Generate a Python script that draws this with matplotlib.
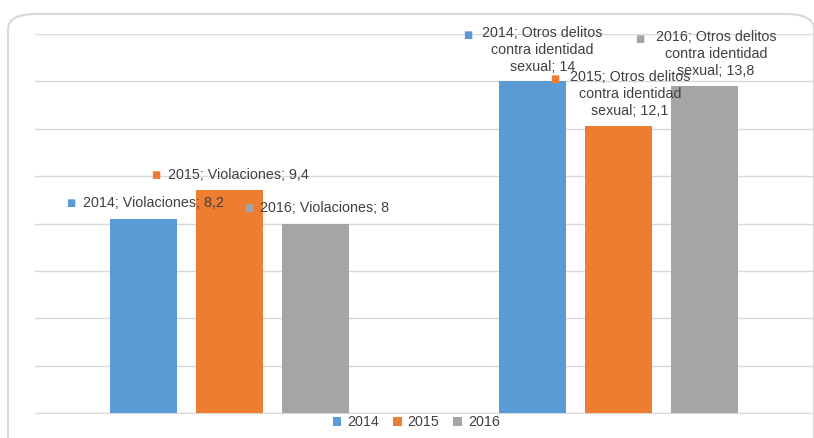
import numpy as np
import matplotlib.pyplot as plt
from matplotlib.patches import FancyBboxPatch

# datos
categorias = ['Violaciones', 'Otros delitos\ncontra identidad\nsexual']
anios = ['2014', '2015', '2016']
v2014 = [8.2, 14]
v2015 = [9.4, 12.1]
v2016 = [8, 13.8]
etiquetas = ['2014; Violaciones; 8,2', '2015; Violaciones; 9,4', '2016; Violaciones; 8',
             '2014; Otros delitos\ncontra identidad\nsexual; 14',
             '2015; Otros delitos\ncontra identidad\nsexual; 12,1',
             '2016; Otros delitos\ncontra identidad\nsexual; 13,8']
colores = ['#5B9BD5', '#ED7D31', '#A5A5A5']

plt.rcParams['font.family'] = ['Liberation Sans', 'DejaVu Sans']

fig = plt.figure(figsize=(8.14, 4.38), dpi=100)
ax = fig.add_axes([35/814, 25/438, 778/814, 379/438])

# marco redondeado
marco = FancyBboxPatch((8/814, -20/438), 806/814, 444/438,
                       boxstyle='round,pad=0,rounding_size=0.035',
                       transform=fig.transFigure, fc='none', ec='#d9d9d9', lw=1.5,
                       clip_on=False)
fig.patches.append(marco)

x = np.arange(len(categorias))
ancho = 0.172
paso = 0.222
series = [v2014, v2015, v2016]
for i, vals in enumerate(series):
    ax.bar(x + (i - 1) * paso, vals, ancho, color=colores[i], label=anios[i], zorder=3)

ax.set_xlim(-0.5, 1.5)
ax.set_ylim(0, 16)
ax.set_yticks(np.arange(0, 17, 2))
ax.grid(axis='y', color='#d9d9d9', lw=1, zorder=0)
ax.set_xticks([])
ax.tick_params(left=False, labelleft=False)
for s in ['top', 'right', 'left']:
    ax.spines[s].set_visible(False)
ax.spines['bottom'].set_color('#d9d9d9')

# desplazamientos de etiquetas (px): texto (dx, dy), cuadrado (dx, dy)
despl = [
    [(-60.5, 16), (-72.5, 16)],
    [(-61, 15), (-74, 15)],
    [(-55.5, 15.5), (-67.5, 15.5)],
]
despl2 = [
    [(10.5, 31), (-64.5, 46)],
    [(11.5, 32), (-63.5, 47)],
    [(11, 32), (-65, 47)],
]
for j in range(len(categorias)):
    for i, vals in enumerate(series):
        xc = x[j] + (i - 1) * paso
        yv = vals[j]
        if j == 0:
            (tdx, tdy), (sdx, sdy) = despl[i]
            ha = 'left'
        else:
            (tdx, tdy), (sdx, sdy) = despl2[i]
            ha = 'center'
        txt = etiquetas[i + 3 * j]
        ax.annotate(txt, (xc, yv), xytext=(tdx * 0.72, tdy * 0.72), textcoords='offset points',
                    ha=ha, va='center', fontsize=10.3, color='#404040', linespacing=1.27,
                    multialignment='center', zorder=5, annotation_clip=False)
        ax.annotate('■', (xc, yv), xytext=(sdx * 0.72, sdy * 0.72), textcoords='offset points',
                    ha='center', va='center', fontsize=7, color=colores[i],
                    family='DejaVu Sans', zorder=5, annotation_clip=False)

ax.legend(loc='center', bbox_to_anchor=(0.49, -0.024), ncol=3, frameon=False,
          fontsize=10.3, handlelength=0.6, handleheight=0.6, handletextpad=0.4,
          columnspacing=1.0, labelcolor='#404040', borderpad=0)

fig.savefig('out.png', dpi=100)
